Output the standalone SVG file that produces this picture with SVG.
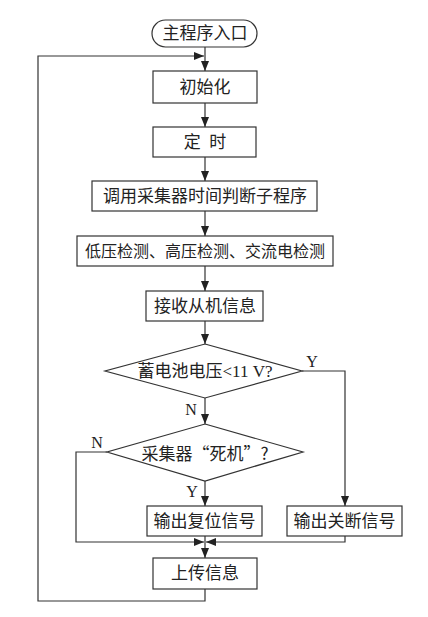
<svg xmlns="http://www.w3.org/2000/svg" width="428" height="617" viewBox="0 0 428 617">
<style>
.box{fill:#fff;stroke:#333;stroke-width:1.2}
.ln{fill:none;stroke:#333;stroke-width:1.2}
.t{font-family:"Liberation Serif","Noto Sans CJK SC",serif;font-size:17px;fill:#222;text-anchor:middle;dominant-baseline:central;white-space:pre}
.c{font-family:"Noto Sans CJK SC","Liberation Serif",sans-serif}
.l{font-family:"Liberation Serif",serif;font-size:16px;fill:#222;text-anchor:middle;dominant-baseline:central}
</style>
<defs>
<marker id="ar" viewBox="0 0 10 8" refX="10" refY="4" markerWidth="10" markerHeight="8" markerUnits="userSpaceOnUse" orient="auto">
<path d="M0,0 L10,4 L0,8 Z" fill="#222"/>
</marker>
</defs>
<rect width="428" height="617" fill="#fff"/>
<g id="connectors">
<path class="ln" d="M205,47 V71" marker-end="url(#ar)"/>
<path class="ln" d="M205,103 V127" marker-end="url(#ar)"/>
<path class="ln" d="M205,157 V181" marker-end="url(#ar)"/>
<path class="ln" d="M205,211 V236" marker-end="url(#ar)"/>
<path class="ln" d="M205,266 V291" marker-end="url(#ar)"/>
<path class="ln" d="M205,321 V344" marker-end="url(#ar)"/>
<path class="ln" d="M205,398 V424" marker-end="url(#ar)"/>
<path class="ln" d="M302,371 H345 V506" marker-end="url(#ar)"/>
<path class="ln" d="M205,481 V506" marker-end="url(#ar)"/>
<path class="ln" d="M107,452 H76 V542 H204" marker-end="url(#ar)"/>
<path class="ln" d="M345,536 V542 H206" marker-end="url(#ar)"/>
<path class="ln" d="M205,536 V558" marker-end="url(#ar)"/>
<path class="ln" d="M205,589 V601 H38 V56 H204" marker-end="url(#ar)"/>
</g>
<g id="start"><rect class="box" x="152" y="20" width="105" height="27" rx="13.5"/><text class="t" x="205" y="33.5">主程序入口</text></g>
<g id="init"><rect class="box" x="153" y="71" width="104" height="32"/><text class="t" x="205" y="87">初始化</text></g>
<g id="timer"><rect class="box" x="153" y="127" width="103" height="30"/><text class="t" x="205" y="142">定  时</text></g>
<g id="call"><rect class="box" x="92" y="181" width="225" height="30"/><text class="t" x="205" y="196">调用采集器时间判断子程序</text></g>
<g id="detect"><rect class="box" x="77" y="236" width="256" height="30"/><text class="t" x="205" y="251" style="font-size:16px">低压检测、高压检测、交流电检测</text></g>
<g id="recv"><rect class="box" x="146" y="291" width="117" height="30"/><text class="t" x="205" y="306">接收从机信息</text></g>
<g id="dec1"><path class="box" d="M205,344 L302,371 L205,398 L105,371 Z"/><text class="t" x="205" y="371">蓄电池电压&lt;11 V?</text><text class="l" x="312" y="361">Y</text><text class="l" x="191" y="409">N</text></g>
<g id="dec2"><path class="box" d="M205,424 L303,452 L205,481 L107,452 Z"/><text class="t c" x="205" y="452">采集器“死机”?</text><text class="l" x="97" y="442">N</text><text class="l" x="192" y="491">Y</text></g>
<g id="reset"><rect class="box" x="147" y="506" width="115" height="30"/><text class="t" x="204.5" y="521">输出复位信号</text></g>
<g id="shutdown"><rect class="box" x="287" y="506" width="115" height="30"/><text class="t" x="344.5" y="521">输出关断信号</text></g>
<g id="upload"><rect class="box" x="153" y="558" width="104" height="31"/><text class="t" x="205" y="573.5">上传信息</text></g>
</svg>
